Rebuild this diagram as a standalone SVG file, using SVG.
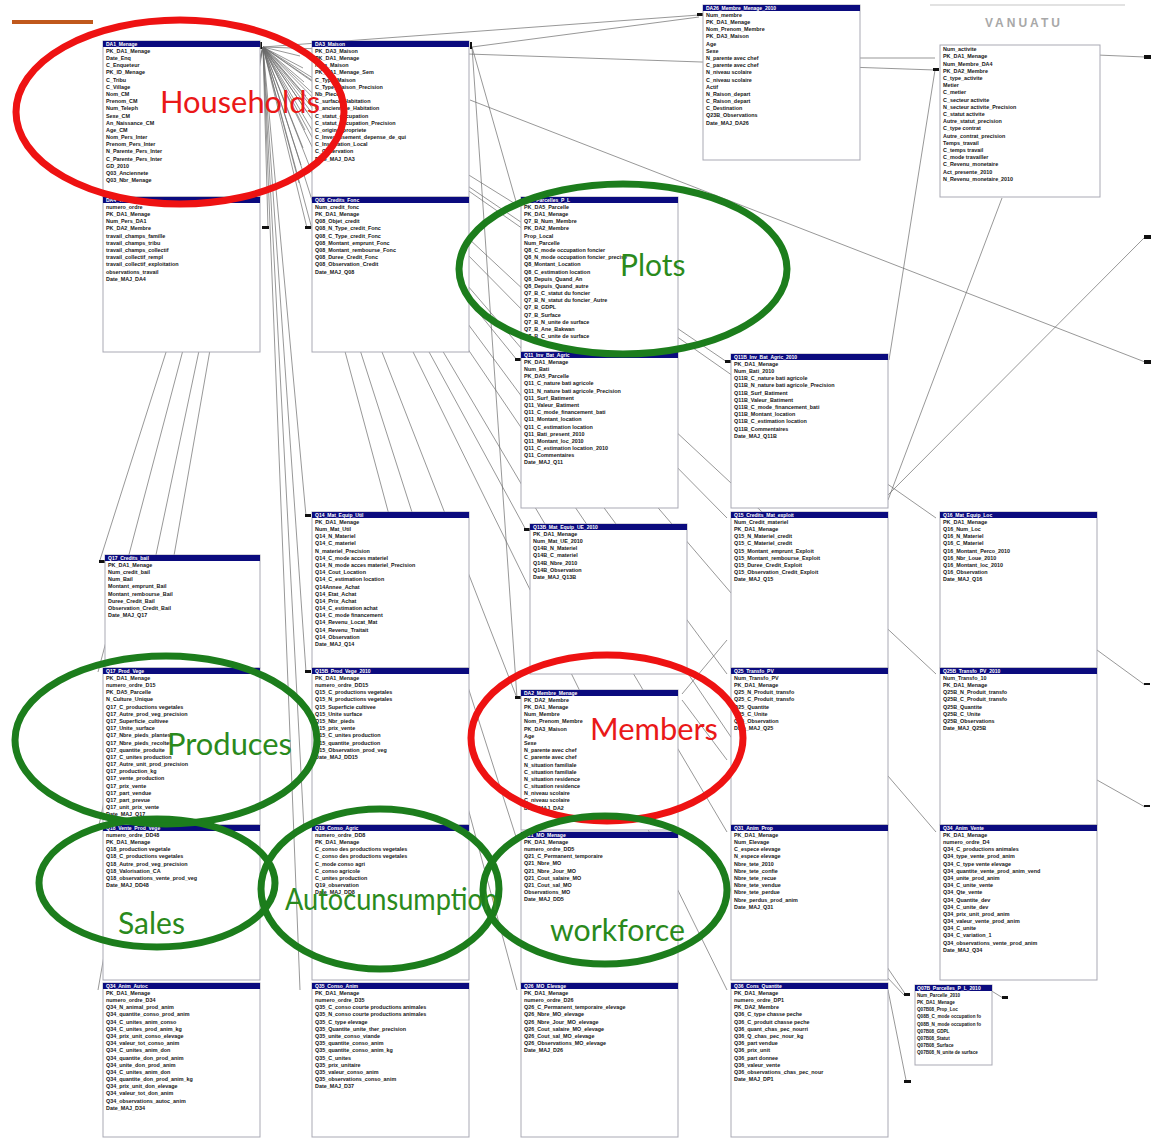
<svg xmlns="http://www.w3.org/2000/svg" width="1154" height="1139" viewBox="0 0 1154 1139">
<style>
  .tb{fill:#fff;stroke:#a9a9b4;stroke-width:1}
  .hd{fill:#0b0b7e}
  .ht{font-family:"Liberation Sans",Arial,sans-serif;font-size:5px;font-weight:bold;fill:#fff}
  .fl{font-family:"Liberation Sans",Arial,sans-serif;font-size:5.4px;font-weight:bold;fill:#161616}
  .cn path{fill:none;stroke:#6c6c6c;stroke-width:0.7}
  .mk{fill:#111}
  .ring{fill:none;stroke-width:7}
  .red{stroke:#ee1212}
  .grn{stroke:#1c7d1c}
  .lbl{font-family:Lato,"Liberation Sans",sans-serif;font-size:30px}
  .lr{fill:#ea1818}
  .lg{fill:#2a8a1c}
</style>

<!-- page decorations -->
<rect x="12" y="20" width="81" height="4" fill="#c0581c"/>
<rect x="930" y="4" width="195" height="2" fill="#e2e2e2"/>
<text x="985" y="27" font-family="Liberation Sans,Arial,sans-serif" font-size="12" font-weight="bold" letter-spacing="3" fill="#a8a8a8">VANUATU</text>

<!-- relationship lines -->
<g id="connectors" class="cn">
  <path d="M263 47L300 56M263 47L303 68M263 47L304 82M263 47L306 96M263 47L307 112M263 47L305 130M263 47L303 148M263 47L301 165M263 47L299 183M263 47L268 228"/>
  <path d="M263 47L307 228M263 47L306 516M263 47L306 672M263 47L304 830M263 47L300 990"/>
  <path d="M263 47L100 560M263 47L98 672M263 47L98 830M263 47L98 990"/>
  <path d="M263 47L517 205M263 47L517 360M263 47L526 530M263 47L517 698M263 47L517 840M263 47L517 990"/>
  <path d="M263 47L727 362M263 47L727 518M263 47L727 674M263 47L727 832M263 47L727 990"/>
  <path d="M263 47L936 518M263 47L936 674M263 47L936 832M263 47L906 995"/>
  <path d="M263 47L699 15M263 47L935 70"/>
  <path d="M472 47L699 17M472 47L517 698M472 47L517 205"/>
  <path d="M470 100L1145 362M888 495L1145 237M888 500L1002 198M935 70L889 360"/>
  <path d="M860 58L935 58M1097 55L1145 57M1097 650L1145 685M1097 780L1145 807"/>
  <path d="M682 694L727 640M682 700L727 760M888 990L906 1080M885 975L904 995M990 990L1003 998"/>
  <!-- end markers -->
  <rect class="mk" x="260" y="42" width="2" height="7"/>
  <rect class="mk" x="470" y="42" width="2" height="7"/>
  <rect class="mk" x="262" y="226" width="7" height="3"/>
  <rect class="mk" x="305" y="226" width="6" height="3"/>
  <rect class="mk" x="305" y="514" width="6" height="3"/>
  <rect class="mk" x="305" y="670" width="6" height="3"/>
  <rect class="mk" x="99" y="560" width="6" height="3"/>
  <rect class="mk" x="515" y="203" width="6" height="3"/>
  <rect class="mk" x="515" y="358" width="6" height="3"/>
  <rect class="mk" x="524" y="528" width="6" height="3"/>
  <rect class="mk" x="515" y="696" width="6" height="3"/>
  <rect class="mk" x="725" y="360" width="6" height="3"/>
  <rect class="mk" x="697" y="13" width="6" height="3"/>
  <rect class="mk" x="933" y="68" width="6" height="3"/>
  <rect class="mk" x="1144" y="55" width="7" height="4"/>
  <rect class="mk" x="1144" y="235" width="7" height="4"/>
  <rect class="mk" x="1144" y="360" width="7" height="4"/>
  <rect class="mk" x="1144" y="683" width="6" height="2"/>
  <rect class="mk" x="1144" y="805" width="6" height="2"/>
  <rect class="mk" x="904" y="993" width="6" height="3"/>
  <rect class="mk" x="1002" y="996" width="6" height="3"/>
  <rect class="mk" x="904" y="1080" width="7" height="3"/>
</g>

<!-- tables -->
<g id="t-da1-menage" transform="translate(103,41)">
  <rect class="tb" width="157" height="156"/><rect class="hd" width="157" height="6"/>
  <text class="ht" x="3" y="5">DA1_Menage</text>
  <text class="fl" y="4.5"><tspan x="3" dy="7.2">PK_DA1_Menage</tspan><tspan x="3" dy="7.2">Date_Enq</tspan><tspan x="3" dy="7.2">C_Enqueteur</tspan><tspan x="3" dy="7.2">PK_ID_Menage</tspan><tspan x="3" dy="7.2">C_Tribu</tspan><tspan x="3" dy="7.2">C_Village</tspan><tspan x="3" dy="7.2">Nom_CM</tspan><tspan x="3" dy="7.2">Prenom_CM</tspan><tspan x="3" dy="7.2">Num_Teleph</tspan><tspan x="3" dy="7.2">Sexe_CM</tspan><tspan x="3" dy="7.2">An_Naissance_CM</tspan><tspan x="3" dy="7.2">Age_CM</tspan><tspan x="3" dy="7.2">Nom_Pers_Inter</tspan><tspan x="3" dy="7.2">Prenom_Pers_Inter</tspan><tspan x="3" dy="7.2">N_Parente_Pers_Inter</tspan><tspan x="3" dy="7.2">C_Parente_Pers_Inter</tspan><tspan x="3" dy="7.2">GD_2010</tspan><tspan x="3" dy="7.2">Q03_Anciennete</tspan><tspan x="3" dy="7.2">Q03_Nbr_Menage</tspan></text>
</g>

<g id="t-da4-travail" transform="translate(103,197)">
  <rect class="tb" width="157" height="155"/><rect class="hd" width="157" height="6"/>
  <text class="ht" x="3" y="5">DA4_Travail</text>
  <text class="fl" y="4.5"><tspan x="3" dy="7.2">numero_ordre</tspan><tspan x="3" dy="7.2">PK_DA1_Menage</tspan><tspan x="3" dy="7.2">Num_Pers_DA1</tspan><tspan x="3" dy="7.2">PK_DA2_Membre</tspan><tspan x="3" dy="7.2">travail_champs_famille</tspan><tspan x="3" dy="7.2">travail_champs_tribu</tspan><tspan x="3" dy="7.2">travail_champs_collectif</tspan><tspan x="3" dy="7.2">travail_collectif_rempl</tspan><tspan x="3" dy="7.2">travail_collectif_exploitation</tspan><tspan x="3" dy="7.2">observations_travail</tspan><tspan x="3" dy="7.2">Date_MAJ_DA4</tspan></text>
</g>

<g id="t-da3-maison" transform="translate(312,41)">
  <rect class="tb" width="157" height="156"/><rect class="hd" width="157" height="6"/>
  <text class="ht" x="3" y="5">DA3_Maison</text>
  <text class="fl" y="4.5"><tspan x="3" dy="7.2">PK_DA3_Maison</tspan><tspan x="3" dy="7.2">PK_DA1_Menage</tspan><tspan x="3" dy="7.2">Num_Maison</tspan><tspan x="3" dy="7.2">PK_DA1_Menage_Sem</tspan><tspan x="3" dy="7.2">C_Type_Maison</tspan><tspan x="3" dy="7.2">C_Type_Maison_Precision</tspan><tspan x="3" dy="7.2">Nb_Pieces</tspan><tspan x="3" dy="7.2">C_surface_Habitation</tspan><tspan x="3" dy="7.2">C_anciennete_Habitation</tspan><tspan x="3" dy="7.2">C_statut_occupation</tspan><tspan x="3" dy="7.2">C_statut_occupation_Precision</tspan><tspan x="3" dy="7.2">C_origine_propriete</tspan><tspan x="3" dy="7.2">C_Investissement_depense_de_qui</tspan><tspan x="3" dy="7.2">C_Installation_Local</tspan><tspan x="3" dy="7.2">C_Observation</tspan><tspan x="3" dy="7.2">Date_MAJ_DA3</tspan></text>
</g>

<g id="t-q08-credits" transform="translate(312,197)">
  <rect class="tb" width="157" height="155"/><rect class="hd" width="157" height="6"/>
  <text class="ht" x="3" y="5">Q08_Credits_Fonc</text>
  <text class="fl" y="4.5"><tspan x="3" dy="7.2">Num_credit_fonc</tspan><tspan x="3" dy="7.2">PK_DA1_Menage</tspan><tspan x="3" dy="7.2">Q08_Objet_credit</tspan><tspan x="3" dy="7.2">Q08_N_Type_credit_Fonc</tspan><tspan x="3" dy="7.2">Q08_C_Type_credit_Fonc</tspan><tspan x="3" dy="7.2">Q08_Montant_emprunt_Fonc</tspan><tspan x="3" dy="7.2">Q08_Montant_rembourse_Fonc</tspan><tspan x="3" dy="7.2">Q08_Duree_Credit_Fonc</tspan><tspan x="3" dy="7.2">Q08_Observation_Credit</tspan><tspan x="3" dy="7.2">Date_MAJ_Q08</tspan></text>
</g>

<g id="t-q07-parcelles" transform="translate(521,197)">
  <rect class="tb" width="157" height="155"/><rect class="hd" width="157" height="6"/>
  <text class="ht" x="3" y="5">Q07_Parcelles_P_L</text>
  <text class="fl" y="4.5"><tspan x="3" dy="7.2">PK_DA5_Parcelle</tspan><tspan x="3" dy="7.2">PK_DA1_Menage</tspan><tspan x="3" dy="7.2">Q7_B_Num_Membre</tspan><tspan x="3" dy="7.2">PK_DA2_Membre</tspan><tspan x="3" dy="7.2">Prop_Local</tspan><tspan x="3" dy="7.2">Num_Parcelle</tspan><tspan x="3" dy="7.2">Q8_C_mode occupation foncier</tspan><tspan x="3" dy="7.2">Q8_N_mode occupation foncier_precise</tspan><tspan x="3" dy="7.2">Q8_Montant_Location</tspan><tspan x="3" dy="7.2">Q8_C_estimation location</tspan><tspan x="3" dy="7.2">Q8_Depuis_Quand_An</tspan><tspan x="3" dy="7.2">Q8_Depuis_Quand_autre</tspan><tspan x="3" dy="7.2">Q7_B_C_statut du foncier</tspan><tspan x="3" dy="7.2">Q7_B_N_statut du foncier_Autre</tspan><tspan x="3" dy="7.2">Q7_B_GDPL</tspan><tspan x="3" dy="7.2">Q7_B_Surface</tspan><tspan x="3" dy="7.2">Q7_B_N_unite de surface</tspan><tspan x="3" dy="7.2">Q7_B_Ane_Bakwan</tspan><tspan x="3" dy="7.2">Q7_B_C_unite de surface</tspan></text>
</g>

<g id="t-q11-inv-bat" transform="translate(521,352)">
  <rect class="tb" width="157" height="156"/><rect class="hd" width="157" height="6"/>
  <text class="ht" x="3" y="5">Q11_Inv_Bat_Agric</text>
  <text class="fl" y="4.5"><tspan x="3" dy="7.2">PK_DA1_Menage</tspan><tspan x="3" dy="7.2">Num_Bati</tspan><tspan x="3" dy="7.2">PK_DA5_Parcelle</tspan><tspan x="3" dy="7.2">Q11_C_nature bati agricole</tspan><tspan x="3" dy="7.2">Q11_N_nature bati agricole_Precision</tspan><tspan x="3" dy="7.2">Q11_Surf_Batiment</tspan><tspan x="3" dy="7.2">Q11_Valeur_Batiment</tspan><tspan x="3" dy="7.2">Q11_C_mode_financement_bati</tspan><tspan x="3" dy="7.2">Q11_Montant_location</tspan><tspan x="3" dy="7.2">Q11_C_estimation location</tspan><tspan x="3" dy="7.2">Q11_Bati_present_2010</tspan><tspan x="3" dy="7.2">Q11_Montant_loc_2010</tspan><tspan x="3" dy="7.2">Q11_C_estimation location_2010</tspan><tspan x="3" dy="7.2">Q11_Commentaires</tspan><tspan x="3" dy="7.2">Date_MAJ_Q11</tspan></text>
</g>

<g id="t-da26-membre-2010" transform="translate(703,5)">
  <rect class="tb" width="157" height="155"/><rect class="hd" width="157" height="6"/>
  <text class="ht" x="3" y="5">DA26_Membre_Menage_2010</text>
  <text class="fl" y="4.5"><tspan x="3" dy="7.2">Num_membre</tspan><tspan x="3" dy="7.2">PK_DA1_Menage</tspan><tspan x="3" dy="7.2">Nom_Prenom_Membre</tspan><tspan x="3" dy="7.2">PK_DA3_Maison</tspan><tspan x="3" dy="7.2">Age</tspan><tspan x="3" dy="7.2">Sexe</tspan><tspan x="3" dy="7.2">N_parente avec chef</tspan><tspan x="3" dy="7.2">C_parente avec chef</tspan><tspan x="3" dy="7.2">N_niveau scolaire</tspan><tspan x="3" dy="7.2">C_niveau scolaire</tspan><tspan x="3" dy="7.2">Actif</tspan><tspan x="3" dy="7.2">N_Raison_depart</tspan><tspan x="3" dy="7.2">C_Raison_depart</tspan><tspan x="3" dy="7.2">C_Destination</tspan><tspan x="3" dy="7.2">Q23B_Observations</tspan><tspan x="3" dy="7.2">Date_MAJ_DA26</tspan></text>
</g>

<g id="t-activite" transform="translate(940,45)">
  <rect class="tb" width="160" height="152"/>
  <text class="fl" y="-1"><tspan x="3" dy="7.2">Num_activite</tspan><tspan x="3" dy="7.2">PK_DA1_Menage</tspan><tspan x="3" dy="7.2">Num_Membre_DA4</tspan><tspan x="3" dy="7.2">PK_DA2_Membre</tspan><tspan x="3" dy="7.2">C_type_activite</tspan><tspan x="3" dy="7.2">Metier</tspan><tspan x="3" dy="7.2">C_metier</tspan><tspan x="3" dy="7.2">C_secteur activite</tspan><tspan x="3" dy="7.2">N_secteur activite_Precision</tspan><tspan x="3" dy="7.2">C_statut activite</tspan><tspan x="3" dy="7.2">Autre_statut_precision</tspan><tspan x="3" dy="7.2">C_type contrat</tspan><tspan x="3" dy="7.2">Autre_contrat_precision</tspan><tspan x="3" dy="7.2">Temps_travail</tspan><tspan x="3" dy="7.2">C_temps travail</tspan><tspan x="3" dy="7.2">C_mode travailler</tspan><tspan x="3" dy="7.2">C_Revenu_monetaire</tspan><tspan x="3" dy="7.2">Act_presente_2010</tspan><tspan x="3" dy="7.2">N_Revenu_monetaire_2010</tspan></text>
</g>

<g id="t-q11b-inv-bat-2010" transform="translate(731,354)">
  <rect class="tb" width="157" height="154"/><rect class="hd" width="157" height="6"/>
  <text class="ht" x="3" y="5">Q11B_Inv_Bat_Agric_2010</text>
  <text class="fl" y="4.5"><tspan x="3" dy="7.2">PK_DA1_Menage</tspan><tspan x="3" dy="7.2">Num_Bati_2010</tspan><tspan x="3" dy="7.2">Q11B_C_nature bati agricole</tspan><tspan x="3" dy="7.2">Q11B_N_nature bati agricole_Precision</tspan><tspan x="3" dy="7.2">Q11B_Surf_Batiment</tspan><tspan x="3" dy="7.2">Q11B_Valeur_Batiment</tspan><tspan x="3" dy="7.2">Q11B_C_mode_financement_bati</tspan><tspan x="3" dy="7.2">Q11B_Montant_location</tspan><tspan x="3" dy="7.2">Q11B_C_estimation location</tspan><tspan x="3" dy="7.2">Q11B_Commentaires</tspan><tspan x="3" dy="7.2">Date_MAJ_Q11B</tspan></text>
</g>

<g id="t-q14-mat-util" transform="translate(312,512)">
  <rect class="tb" width="157" height="156"/><rect class="hd" width="157" height="6"/>
  <text class="ht" x="3" y="5">Q14_Mat_Equip_Util</text>
  <text class="fl" y="4.5"><tspan x="3" dy="7.2">PK_DA1_Menage</tspan><tspan x="3" dy="7.2">Num_Mat_Util</tspan><tspan x="3" dy="7.2">Q14_N_Materiel</tspan><tspan x="3" dy="7.2">Q14_C_materiel</tspan><tspan x="3" dy="7.2">N_materiel_Precision</tspan><tspan x="3" dy="7.2">Q14_C_mode acces materiel</tspan><tspan x="3" dy="7.2">Q14_N_mode acces materiel_Precision</tspan><tspan x="3" dy="7.2">Q14_Cout_Location</tspan><tspan x="3" dy="7.2">Q14_C_estimation location</tspan><tspan x="3" dy="7.2">Q14Annee_Achat</tspan><tspan x="3" dy="7.2">Q14_Etat_Achat</tspan><tspan x="3" dy="7.2">Q14_Prix_Achat</tspan><tspan x="3" dy="7.2">Q14_C_estimation achat</tspan><tspan x="3" dy="7.2">Q14_C_mode financement</tspan><tspan x="3" dy="7.2">Q14_Revenu_Locat_Mat</tspan><tspan x="3" dy="7.2">Q14_Revenu_Traitait</tspan><tspan x="3" dy="7.2">Q14_Observation</tspan><tspan x="3" dy="7.2">Date_MAJ_Q14</tspan></text>
</g>

<g id="t-q13b-mat-2010" transform="translate(530,524)">
  <rect class="tb" width="157" height="150"/><rect class="hd" width="157" height="6"/>
  <text class="ht" x="3" y="5">Q13B_Mat_Equip_UE_2010</text>
  <text class="fl" y="4.5"><tspan x="3" dy="7.2">PK_DA1_Menage</tspan><tspan x="3" dy="7.2">Num_Mat_UE_2010</tspan><tspan x="3" dy="7.2">Q14B_N_Materiel</tspan><tspan x="3" dy="7.2">Q14B_C_materiel</tspan><tspan x="3" dy="7.2">Q14B_Nbre_2010</tspan><tspan x="3" dy="7.2">Q14B_Observation</tspan><tspan x="3" dy="7.2">Date_MAJ_Q13B</tspan></text>
</g>

<g id="t-q15-credits-mat" transform="translate(731,512)">
  <rect class="tb" width="157" height="156"/><rect class="hd" width="157" height="6"/>
  <text class="ht" x="3" y="5">Q15_Credits_Mat_exploit</text>
  <text class="fl" y="4.5"><tspan x="3" dy="7.2">Num_Credit_materiel</tspan><tspan x="3" dy="7.2">PK_DA1_Menage</tspan><tspan x="3" dy="7.2">Q15_N_Materiel_credit</tspan><tspan x="3" dy="7.2">Q15_C_Materiel_credit</tspan><tspan x="3" dy="7.2">Q15_Montant_emprunt_Exploit</tspan><tspan x="3" dy="7.2">Q15_Montant_rembourse_Exploit</tspan><tspan x="3" dy="7.2">Q15_Duree_Credit_Exploit</tspan><tspan x="3" dy="7.2">Q15_Observation_Credit_Exploit</tspan><tspan x="3" dy="7.2">Date_MAJ_Q15</tspan></text>
</g>

<g id="t-q16-mat-loc" transform="translate(940,512)">
  <rect class="tb" width="157" height="156"/><rect class="hd" width="157" height="6"/>
  <text class="ht" x="3" y="5">Q16_Mat_Equip_Loc</text>
  <text class="fl" y="4.5"><tspan x="3" dy="7.2">PK_DA1_Menage</tspan><tspan x="3" dy="7.2">Q16_Num_Loc</tspan><tspan x="3" dy="7.2">Q16_N_Materiel</tspan><tspan x="3" dy="7.2">Q16_C_Materiel</tspan><tspan x="3" dy="7.2">Q16_Montant_Perco_2010</tspan><tspan x="3" dy="7.2">Q16_Nbr_Loue_2010</tspan><tspan x="3" dy="7.2">Q16_Montant_loc_2010</tspan><tspan x="3" dy="7.2">Q16_Observation</tspan><tspan x="3" dy="7.2">Date_MAJ_Q16</tspan></text>
</g>

<g id="t-q17-credits-bail" transform="translate(105,555)">
  <rect class="tb" width="155" height="113"/><rect class="hd" width="155" height="6"/>
  <text class="ht" x="3" y="5">Q17_Credits_bail</text>
  <text class="fl" y="4.5"><tspan x="3" dy="7.2">PK_DA1_Menage</tspan><tspan x="3" dy="7.2">Num_credit_bail</tspan><tspan x="3" dy="7.2">Num_Bail</tspan><tspan x="3" dy="7.2">Montant_emprunt_Bail</tspan><tspan x="3" dy="7.2">Montant_rembourse_Bail</tspan><tspan x="3" dy="7.2">Duree_Credit_Bail</tspan><tspan x="3" dy="7.2">Observation_Credit_Bail</tspan><tspan x="3" dy="7.2">Date_MAJ_Q17</tspan></text>
</g>

<g id="t-q17-prod-vege" transform="translate(103,668)">
  <rect class="tb" width="157" height="157"/><rect class="hd" width="157" height="6"/>
  <text class="ht" x="3" y="5">Q17_Prod_Vege</text>
  <text class="fl" y="4.5"><tspan x="3" dy="7.2">PK_DA1_Menage</tspan><tspan x="3" dy="7.2">numero_ordre_D15</tspan><tspan x="3" dy="7.2">PK_DA5_Parcelle</tspan><tspan x="3" dy="7.2">N_Culture_Unique</tspan><tspan x="3" dy="7.2">Q17_C_productions vegetales</tspan><tspan x="3" dy="7.2">Q17_Autre_prod_veg_precision</tspan><tspan x="3" dy="7.2">Q17_Superficie_cultivee</tspan><tspan x="3" dy="7.2">Q17_Unite_surface</tspan><tspan x="3" dy="7.2">Q17_Nbre_pieds_plantes</tspan><tspan x="3" dy="7.2">Q17_Nbre_pieds_recoltes</tspan><tspan x="3" dy="7.2">Q17_quantite_produite</tspan><tspan x="3" dy="7.2">Q17_C_unites production</tspan><tspan x="3" dy="7.2">Q17_Autre_unit_prod_precision</tspan><tspan x="3" dy="7.2">Q17_production_kg</tspan><tspan x="3" dy="7.2">Q17_vente_production</tspan><tspan x="3" dy="7.2">Q17_prix_vente</tspan><tspan x="3" dy="7.2">Q17_part_vendue</tspan><tspan x="3" dy="7.2">Q17_part_prevue</tspan><tspan x="3" dy="7.2">Q17_unit_prix_vente</tspan><tspan x="3" dy="7.2">Date_MAJ_Q17</tspan></text>
</g>

<g id="t-q18-vente-vege" transform="translate(103,825)">
  <rect class="tb" width="157" height="155"/><rect class="hd" width="157" height="6"/>
  <text class="ht" x="3" y="5">Q18_Vente_Prod_Vege</text>
  <text class="fl" y="4.5"><tspan x="3" dy="7.2">numero_ordre_DD48</tspan><tspan x="3" dy="7.2">PK_DA1_Menage</tspan><tspan x="3" dy="7.2">Q18_production vegetale</tspan><tspan x="3" dy="7.2">Q18_C_productions vegetales</tspan><tspan x="3" dy="7.2">Q18_Autre_prod_veg_precision</tspan><tspan x="3" dy="7.2">Q18_Valorisation_CA</tspan><tspan x="3" dy="7.2">Q18_observations_vente_prod_veg</tspan><tspan x="3" dy="7.2">Date_MAJ_DD48</tspan></text>
</g>

<g id="t-q34-anim-autoc" transform="translate(103,983)">
  <rect class="tb" width="157" height="154"/><rect class="hd" width="157" height="6"/>
  <text class="ht" x="3" y="5">Q34_Anim_Autoc</text>
  <text class="fl" y="4.5"><tspan x="3" dy="7.2">PK_DA1_Menage</tspan><tspan x="3" dy="7.2">numero_ordre_D34</tspan><tspan x="3" dy="7.2">Q34_N_animal_prod_anim</tspan><tspan x="3" dy="7.2">Q34_quantite_conso_prod_anim</tspan><tspan x="3" dy="7.2">Q34_C_unites_anim_conso</tspan><tspan x="3" dy="7.2">Q34_C_unites_prod_anim_kg</tspan><tspan x="3" dy="7.2">Q34_prix_unit_conso_elevage</tspan><tspan x="3" dy="7.2">Q34_valeur_tot_conso_anim</tspan><tspan x="3" dy="7.2">Q34_C_unites_anim_don</tspan><tspan x="3" dy="7.2">Q34_quantite_don_prod_anim</tspan><tspan x="3" dy="7.2">Q34_unite_don_prod_anim</tspan><tspan x="3" dy="7.2">Q34_C_unites_anim_don</tspan><tspan x="3" dy="7.2">Q34_quantite_don_prod_anim_kg</tspan><tspan x="3" dy="7.2">Q34_prix_unit_don_elevage</tspan><tspan x="3" dy="7.2">Q34_valeur_tot_don_anim</tspan><tspan x="3" dy="7.2">Q34_observations_autoc_anim</tspan><tspan x="3" dy="7.2">Date_MAJ_D34</tspan></text>
</g>

<g id="t-q15b-prod-2010" transform="translate(312,668)">
  <rect class="tb" width="157" height="157"/><rect class="hd" width="157" height="6"/>
  <text class="ht" x="3" y="5">Q15B_Prod_Vege_2010</text>
  <text class="fl" y="4.5"><tspan x="3" dy="7.2">PK_DA1_Menage</tspan><tspan x="3" dy="7.2">numero_ordre_DD15</tspan><tspan x="3" dy="7.2">Q15_C_productions vegetales</tspan><tspan x="3" dy="7.2">Q15_N_productions vegetales</tspan><tspan x="3" dy="7.2">Q15_Superficie cultivee</tspan><tspan x="3" dy="7.2">Q15_Unite surface</tspan><tspan x="3" dy="7.2">Q15_Nbr_pieds</tspan><tspan x="3" dy="7.2">Q15_prix_vente</tspan><tspan x="3" dy="7.2">Q15_C_unites production</tspan><tspan x="3" dy="7.2">Q15_quantite_production</tspan><tspan x="3" dy="7.2">Q15_Observation_prod_veg</tspan><tspan x="3" dy="7.2">Date_MAJ_DD15</tspan></text>
</g>

<g id="t-q19-conso-agric" transform="translate(312,825)">
  <rect class="tb" width="157" height="155"/><rect class="hd" width="157" height="6"/>
  <text class="ht" x="3" y="5">Q19_Conso_Agric</text>
  <text class="fl" y="4.5"><tspan x="3" dy="7.2">numero_ordre_DD8</tspan><tspan x="3" dy="7.2">PK_DA1_Menage</tspan><tspan x="3" dy="7.2">C_conso des productions vegetales</tspan><tspan x="3" dy="7.2">C_conso des productions vegetales</tspan><tspan x="3" dy="7.2">C_mode conso agri</tspan><tspan x="3" dy="7.2">C_conso agricole</tspan><tspan x="3" dy="7.2">C_unites production</tspan><tspan x="3" dy="7.2">Q19_observation</tspan><tspan x="3" dy="7.2">Date_MAJ_DD8</tspan></text>
</g>

<g id="t-q35-conso-anim" transform="translate(312,983)">
  <rect class="tb" width="157" height="154"/><rect class="hd" width="157" height="6"/>
  <text class="ht" x="3" y="5">Q35_Conso_Anim</text>
  <text class="fl" y="4.5"><tspan x="3" dy="7.2">PK_DA1_Menage</tspan><tspan x="3" dy="7.2">numero_ordre_D35</tspan><tspan x="3" dy="7.2">Q35_C_conso courte productions animales</tspan><tspan x="3" dy="7.2">Q35_N_conso courte productions animales</tspan><tspan x="3" dy="7.2">Q35_C_type elevage</tspan><tspan x="3" dy="7.2">Q35_Quantite_unite_ther_precision</tspan><tspan x="3" dy="7.2">Q35_unite_conso_viande</tspan><tspan x="3" dy="7.2">Q35_quantite_conso_anim</tspan><tspan x="3" dy="7.2">Q35_quantite_conso_anim_kg</tspan><tspan x="3" dy="7.2">Q35_C_unites</tspan><tspan x="3" dy="7.2">Q35_prix_unitaire</tspan><tspan x="3" dy="7.2">Q35_valeur_conso_anim</tspan><tspan x="3" dy="7.2">Q35_observations_conso_anim</tspan><tspan x="3" dy="7.2">Date_MAJ_D37</tspan></text>
</g>

<g id="t-da2-membre" transform="translate(521,690)">
  <rect class="tb" width="157" height="140"/><rect class="hd" width="157" height="6"/>
  <text class="ht" x="3" y="5">DA2_Membre_Menage</text>
  <text class="fl" y="4.5"><tspan x="3" dy="7.2">PK_DA2_Membre</tspan><tspan x="3" dy="7.2">PK_DA1_Menage</tspan><tspan x="3" dy="7.2">Num_Membre</tspan><tspan x="3" dy="7.2">Nom_Prenom_Membre</tspan><tspan x="3" dy="7.2">PK_DA3_Maison</tspan><tspan x="3" dy="7.2">Age</tspan><tspan x="3" dy="7.2">Sexe</tspan><tspan x="3" dy="7.2">N_parente avec chef</tspan><tspan x="3" dy="7.2">C_parente avec chef</tspan><tspan x="3" dy="7.2">N_situation familiale</tspan><tspan x="3" dy="7.2">C_situation familiale</tspan><tspan x="3" dy="7.2">N_situation residence</tspan><tspan x="3" dy="7.2">C_situation residence</tspan><tspan x="3" dy="7.2">N_niveau scolaire</tspan><tspan x="3" dy="7.2">C_niveau scolaire</tspan><tspan x="3" dy="7.2">Date_MAJ_DA2</tspan></text>
</g>

<g id="t-q21-mo" transform="translate(521,832)">
  <rect class="tb" width="157" height="152"/><rect class="hd" width="157" height="6"/>
  <text class="ht" x="3" y="5">Q21_MO_Menage</text>
  <text class="fl" y="4.5"><tspan x="3" dy="7.2">PK_DA1_Menage</tspan><tspan x="3" dy="7.2">numero_ordre_DD5</tspan><tspan x="3" dy="7.2">Q21_C_Permanent_temporaire</tspan><tspan x="3" dy="7.2">Q21_Nbre_MO</tspan><tspan x="3" dy="7.2">Q21_Nbre_Jour_MO</tspan><tspan x="3" dy="7.2">Q21_Cout_salaire_MO</tspan><tspan x="3" dy="7.2">Q21_Cout_sal_MO</tspan><tspan x="3" dy="7.2">Observations_MO</tspan><tspan x="3" dy="7.2">Date_MAJ_DD5</tspan></text>
</g>

<g id="t-q26-mo-elevage" transform="translate(521,983)">
  <rect class="tb" width="157" height="154"/><rect class="hd" width="157" height="6"/>
  <text class="ht" x="3" y="5">Q26_MO_Elevage</text>
  <text class="fl" y="4.5"><tspan x="3" dy="7.2">PK_DA1_Menage</tspan><tspan x="3" dy="7.2">numero_ordre_D26</tspan><tspan x="3" dy="7.2">Q26_C_Permanent_temporaire_elevage</tspan><tspan x="3" dy="7.2">Q26_Nbre_MO_elevage</tspan><tspan x="3" dy="7.2">Q26_Nbre_Jour_MO_elevage</tspan><tspan x="3" dy="7.2">Q26_Cout_salaire_MO_elevage</tspan><tspan x="3" dy="7.2">Q26_Cout_sal_MO_elevage</tspan><tspan x="3" dy="7.2">Q26_Observations_MO_elevage</tspan><tspan x="3" dy="7.2">Date_MAJ_D26</tspan></text>
</g>

<g id="t-q25-transfo" transform="translate(731,668)">
  <rect class="tb" width="157" height="157"/><rect class="hd" width="157" height="6"/>
  <text class="ht" x="3" y="5">Q25_Transfo_PV</text>
  <text class="fl" y="4.5"><tspan x="3" dy="7.2">Num_Transfo_PV</tspan><tspan x="3" dy="7.2">PK_DA1_Menage</tspan><tspan x="3" dy="7.2">Q25_N_Produit_transfo</tspan><tspan x="3" dy="7.2">Q25_C_Produit_transfo</tspan><tspan x="3" dy="7.2">Q25_Quantite</tspan><tspan x="3" dy="7.2">Q25_C_Unite</tspan><tspan x="3" dy="7.2">Q25_Observation</tspan><tspan x="3" dy="7.2">Date_MAJ_Q25</tspan></text>
</g>

<g id="t-q25b-transfo-2010" transform="translate(940,668)">
  <rect class="tb" width="157" height="157"/><rect class="hd" width="157" height="6"/>
  <text class="ht" x="3" y="5">Q25B_Transfo_PV_2010</text>
  <text class="fl" y="4.5"><tspan x="3" dy="7.2">Num_Transfo_10</tspan><tspan x="3" dy="7.2">PK_DA1_Menage</tspan><tspan x="3" dy="7.2">Q25B_N_Produit_transfo</tspan><tspan x="3" dy="7.2">Q25B_C_Produit_transfo</tspan><tspan x="3" dy="7.2">Q25B_Quantite</tspan><tspan x="3" dy="7.2">Q25B_C_Unite</tspan><tspan x="3" dy="7.2">Q25B_Observations</tspan><tspan x="3" dy="7.2">Date_MAJ_Q25B</tspan></text>
</g>

<g id="t-q31-anim-prop" transform="translate(731,825)">
  <rect class="tb" width="157" height="155"/><rect class="hd" width="157" height="6"/>
  <text class="ht" x="3" y="5">Q31_Anim_Prop</text>
  <text class="fl" y="4.5"><tspan x="3" dy="7.2">PK_DA1_Menage</tspan><tspan x="3" dy="7.2">Num_Elevage</tspan><tspan x="3" dy="7.2">C_espece elevage</tspan><tspan x="3" dy="7.2">N_espece elevage</tspan><tspan x="3" dy="7.2">Nbre_tete_2010</tspan><tspan x="3" dy="7.2">Nbre_tete_confie</tspan><tspan x="3" dy="7.2">Nbre_tete_recue</tspan><tspan x="3" dy="7.2">Nbre_tete_vendue</tspan><tspan x="3" dy="7.2">Nbre_tete_perdue</tspan><tspan x="3" dy="7.2">Nbre_perdus_prod_anim</tspan><tspan x="3" dy="7.2">Date_MAJ_Q31</tspan></text>
</g>

<g id="t-q34-anim-vente" transform="translate(940,825)">
  <rect class="tb" width="157" height="155"/><rect class="hd" width="157" height="6"/>
  <text class="ht" x="3" y="5">Q34_Anim_Vente</text>
  <text class="fl" y="4.5"><tspan x="3" dy="7.2">PK_DA1_Menage</tspan><tspan x="3" dy="7.2">numero_ordre_D4</tspan><tspan x="3" dy="7.2">Q34_C_productions animales</tspan><tspan x="3" dy="7.2">Q34_type_vente_prod_anim</tspan><tspan x="3" dy="7.2">Q34_C_type vente elevage</tspan><tspan x="3" dy="7.2">Q34_quantite_vente_prod_anim_vend</tspan><tspan x="3" dy="7.2">Q34_unite_prod_anim</tspan><tspan x="3" dy="7.2">Q34_C_unite_vente</tspan><tspan x="3" dy="7.2">Q34_Qte_vente</tspan><tspan x="3" dy="7.2">Q34_Quantite_dev</tspan><tspan x="3" dy="7.2">Q34_C_unite_dev</tspan><tspan x="3" dy="7.2">Q34_prix_unit_prod_anim</tspan><tspan x="3" dy="7.2">Q34_valeur_vente_prod_anim</tspan><tspan x="3" dy="7.2">Q34_C_unite</tspan><tspan x="3" dy="7.2">Q34_C_variation_1</tspan><tspan x="3" dy="7.2">Q34_observations_vente_prod_anim</tspan><tspan x="3" dy="7.2">Date_MAJ_Q34</tspan></text>
</g>

<g id="t-q36-cons-quantite" transform="translate(731,983)">
  <rect class="tb" width="157" height="154"/><rect class="hd" width="157" height="6"/>
  <text class="ht" x="3" y="5">Q36_Cons_Quantite</text>
  <text class="fl" y="4.5"><tspan x="3" dy="7.2">PK_DA1_Menage</tspan><tspan x="3" dy="7.2">numero_ordre_DP1</tspan><tspan x="3" dy="7.2">PK_DA2_Membre</tspan><tspan x="3" dy="7.2">Q36_C_type chasse peche</tspan><tspan x="3" dy="7.2">Q36_C_produit chasse peche</tspan><tspan x="3" dy="7.2">Q36_quant_chas_pec_nourri</tspan><tspan x="3" dy="7.2">Q36_Q_chas_pec_nour_kg</tspan><tspan x="3" dy="7.2">Q36_part vendue</tspan><tspan x="3" dy="7.2">Q36_prix_unit</tspan><tspan x="3" dy="7.2">Q36_part donnee</tspan><tspan x="3" dy="7.2">Q36_valeur_vente</tspan><tspan x="3" dy="7.2">Q36_observations_chas_pec_nour</tspan><tspan x="3" dy="7.2">Date_MAJ_DP1</tspan></text>
</g>

<g id="t-q07b-parcelles-2010" transform="translate(915,985)">
  <rect class="tb" width="77" height="80"/><rect class="hd" width="77" height="6"/>
  <text class="ht" x="2" y="5">Q07B_Parcelles_P_L_2010</text>
  <text class="fl" y="4.5" style="font-size:4.6px"><tspan x="2" dy="7.2">Num_Parcelle_2010</tspan><tspan x="2" dy="7.2">PK_DA1_Menage</tspan><tspan x="2" dy="7.2">Q07B08_Prop_Loc</tspan><tspan x="2" dy="7.2">Q08B_C_mode occupation fo</tspan><tspan x="2" dy="7.2">Q08B_N_mode occupation fo</tspan><tspan x="2" dy="7.2">Q07B08_GDPL</tspan><tspan x="2" dy="7.2">Q07B08_Statut</tspan><tspan x="2" dy="7.2">Q07B08_Surface</tspan><tspan x="2" dy="7.2">Q07B08_N_unite de surface</tspan></text>
</g>

<!-- thematic highlight rings and their captions -->
<g id="highlights">
  <ellipse class="ring red" cx="180" cy="112" rx="164" ry="92"/>
  <ellipse class="ring grn" cx="623" cy="269" rx="164" ry="85"/>
  <ellipse class="ring grn" cx="166" cy="740" rx="151" ry="84"/>
  <ellipse class="ring red" cx="607" cy="738" rx="136" ry="83"/>
  <ellipse class="ring grn" cx="157" cy="883" rx="118" ry="64"/>
  <ellipse class="ring grn" cx="380" cy="889" rx="119" ry="80"/>
  <ellipse class="ring grn" cx="605" cy="890" rx="122" ry="74"/>
  <text class="lbl lr" x="160" y="113" textLength="160" lengthAdjust="spacingAndGlyphs">Households</text>
  <text class="lbl lg" x="620" y="276">Plots</text>
  <text class="lbl lg" x="167" y="755" textLength="125" lengthAdjust="spacingAndGlyphs">Produces</text>
  <text class="lbl lr" x="590" y="740" textLength="128" lengthAdjust="spacingAndGlyphs">Members</text>
  <text class="lbl lg" x="118" y="934">Sales</text>
  <text class="lbl lg" x="285" y="910" textLength="213" lengthAdjust="spacingAndGlyphs">Autocunsumption</text>
  <text class="lbl lg" x="550" y="941" textLength="135" lengthAdjust="spacingAndGlyphs">workforce</text>
</g>
</svg>
